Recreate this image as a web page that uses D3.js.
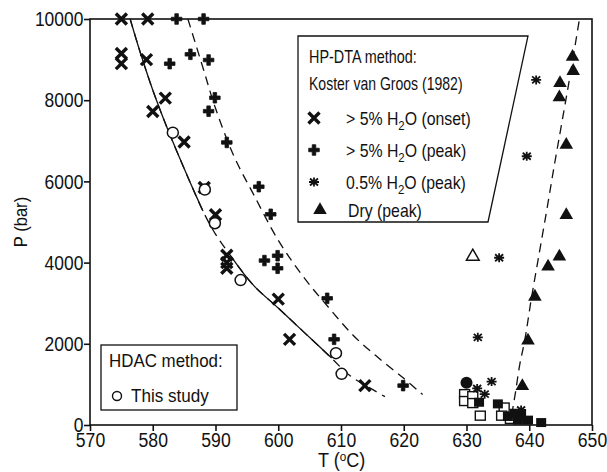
<!DOCTYPE html>
<html>
<head>
<meta charset="utf-8">
<script src="https://cdn.jsdelivr.net/npm/d3@7"></script>
<style>
  html, body { margin: 0; padding: 0; background: #fff; }
  svg text { font-family: "Liberation Sans", Arial, Helvetica, sans-serif; fill: #111; }
  .frame { fill: none; stroke: #111; stroke-width: 1.6; }
  .fit   { fill: none; stroke: #111; stroke-width: 1.3; }
  .axis path { display: none; }
  .axis line { stroke: #111; stroke-width: 1.6; }
  .axis text { font-size: 21px; }
</style>
</head>
<body>
<svg id="chart"></svg>
<script>
const SVG_W  = 607;
const SVG_H  = 472;
const MARGIN = { top: 19, right: 15, bottom: 47, left: 90 };
const W      = SVG_W - MARGIN.left - MARGIN.right;
const H      = SVG_H - MARGIN.top  - MARGIN.bottom;

// ticks
const T_TICKS = [570, 580, 590, 600, 610, 620, 630, 640, 650];
const P_TICKS = [0, 2000, 4000, 6000, 8000, 10000];

// Koster van Groos (1982), >5% H2O onset  [T degC, P bar]
const onsetPts = [
  [575, 10000], [579.2, 10000], [575, 9150], [575, 8900], [579, 9000],
  [582, 8050], [580, 7720], [585, 6970], [588.2, 5850], [590, 5180],
  [591.8, 4180], [591.8, 4000], [591.8, 3860], [600, 3100], [601.8, 2110],
  [613.8, 970]
];
// >5% H2O peak
const peakPts = [
  [583.8, 10000], [588.1, 10000], [582.7, 8900], [586, 9130], [588.9, 8990],
  [589.9, 8060], [588.9, 7730], [591.8, 6960], [596.9, 5870], [598.8, 5190],
  [597.8, 4050], [599.9, 4170], [599.9, 3860], [607.8, 3120], [608.9, 2110],
  [619.9, 970]
];
// 0.5% H2O peak
const tracePts = [
  [641.1, 8500], [639.6, 6620], [635.2, 4120], [631.8, 2160], [634, 1070],
  [631.7, 900], [632.9, 760], [638.7, 370]
];
// dry peak
const dryPts = [
  [646.9, 9070], [647, 8720], [644.9, 8420], [644.8, 8070], [645.9, 6900],
  [645.9, 5170], [644.8, 4150], [643, 3900], [640.9, 3160], [639.8, 2080],
  [638.9, 960]
];
const dryOpenPts = [[631, 4150]];

// HDAC, this study
const studyPts = [
  [583.2, 7200], [588.3, 5800], [589.9, 4970], [594, 3570], [609.2, 1770], [610.1, 1260]
];
const dotPts     = [[630, 1040]];
const sqOpenPts  = [
  [629.7, 760], [629.7, 590], [631, 710], [631, 540], [632.2, 230],
  [636, 430], [635.6, 230], [637, 150]
];
const sqFillPts  = [
  [632, 560], [635, 520], [636.6, 210], [637.7, 290], [638.7, 250],
  [639.8, 120], [641.9, 60], [638.2, 120]
];

// fitted curves (null = gap in line)
const solidFit = [
  [576.4, 10000], [578, 9180], [580, 8250], [582, 7430], [584, 6680], [586, 5960], [588, 5270],
  null,
  [592.5, 4150], [596, 3450], [600, 2880], [604, 2300], [608.5, 1650]
];
const onsetFit = [
  [576.4, 10000], [578, 9180], [580, 8250], [582, 7430], [584, 6680], [586, 5960], [588, 5270],
  [590, 4700], [592.5, 4150], [596, 3450], [600, 2880], [604, 2300], [608, 1720],
  [611.4, 1220], [614.5, 920], [617, 700]
];
const peakFit = [
  [585.6, 10000], [588, 8800], [590, 7800], [593, 6600], [596, 5700], [600, 4550],
  [604, 3650], [608, 2900], [612, 2200], [616, 1650], [620, 1150], [623, 750]
];
const dryFit = [
  [637.2, 250], [637.8, 800], [638.5, 1500], [639.3, 2100], [640.3, 3080], [641.5, 4150],
  [642.8, 5300], [644, 6400], [645.2, 7450], [646.5, 8600], [648, 10000]
];

const xScale = d3.scaleLinear().domain([570, 650]).range([0, W]);
const yScale = d3.scaleLinear().domain([0, 10000]).range([H, 0]);

const svg = d3.select('#chart')
  .attr('width', SVG_W)
  .attr('height', SVG_H);

svg.append('defs').append('clipPath').attr('id', 'plot-clip')
  .append('rect').attr('width', W).attr('height', H);

const g = svg.append('g')
  .attr('transform', `translate(${MARGIN.left},${MARGIN.top})`);

// axes (labels squeezed a bit, the original face is narrow)
g.append('g')
  .attr('class', 'axis')
  .attr('transform', `translate(0,${H})`)
  .call(d3.axisBottom(xScale).tickValues(T_TICKS).tickSize(6).tickPadding(1).tickFormat(d3.format('d')))
  .selectAll('text').attr('transform', 'scale(0.84,1)');

g.append('g')
  .attr('class', 'axis')
  .call(d3.axisLeft(yScale).tickValues(P_TICKS).tickSize(6).tickPadding(2).tickFormat(d3.format('d')))
  .selectAll('text').attr('transform', 'scale(0.83,1)');

g.append('rect')
  .attr('class', 'frame')
  .attr('width', W)
  .attr('height', H);

// fitted curves
const lineGen = d3.line()
  .defined(d => d !== null)
  .x(d => xScale(d[0]))
  .y(d => yScale(d[1]))
  .curve(d3.curveCatmullRom.alpha(0.5));

const curves = g.append('g').attr('clip-path', 'url(#plot-clip)');
curves.append('path').attr('class', 'fit').attr('d', lineGen(onsetFit)).attr('stroke-dasharray', '9,6');
curves.append('path').attr('class', 'fit').attr('d', lineGen(solidFit));
curves.append('path').attr('class', 'fit').attr('d', lineGen(peakFit)).attr('stroke-dasharray', '9,6');
curves.append('path').attr('class', 'fit').attr('d', lineGen(dryFit)).attr('stroke-dasharray', '9,6');

// marker shapes
function drawMark(sel, kind) {
  if (kind === 'onset') {
    sel.append('path').attr('d', 'M-5.5,-5.5L5.5,5.5M-5.5,5.5L5.5,-5.5')
      .attr('stroke', '#111').attr('stroke-width', 3.4).attr('fill', 'none');
  } else if (kind === 'peak') {
    sel.append('path').attr('d', d3.symbol(d3.symbolCross, 62)())
      .attr('fill', '#111').attr('stroke', '#111').attr('stroke-width', 0.8).attr('stroke-linejoin', 'round');
  } else if (kind === 'trace') {
    sel.append('path').attr('d', 'M-5,0H5M0,-4.5V4.5M-4,-3.5L4,3.5M-4,3.5L4,-3.5')
      .attr('stroke', '#111').attr('stroke-width', 1.8).attr('fill', 'none');
  } else if (kind === 'dry') {
    sel.append('path').attr('d', d3.symbol(d3.symbolTriangle, 80)())
      .attr('fill', '#111');
  } else if (kind === 'dryOpen') {
    sel.append('path').attr('d', d3.symbol(d3.symbolTriangle, 70)())
      .attr('fill', '#fff').attr('stroke', '#111').attr('stroke-width', 1.5);
  } else if (kind === 'study') {
    sel.append('circle').attr('r', 5.5)
      .attr('fill', '#fff').attr('stroke', '#111').attr('stroke-width', 1.5);
  } else if (kind === 'dot') {
    sel.append('circle').attr('r', 6).attr('fill', '#111');
  } else if (kind === 'sqOpen') {
    sel.append('rect').attr('x', -5).attr('y', -4.5).attr('width', 10).attr('height', 9)
      .attr('fill', '#fff').attr('stroke', '#111').attr('stroke-width', 1.4);
  } else if (kind === 'sqFill') {
    sel.append('rect').attr('x', -5).attr('y', -4.5).attr('width', 10).attr('height', 9)
      .attr('fill', '#111');
  }
}

function plotSeries(data, kind) {
  g.append('g').selectAll('g')
    .data(data)
    .join('g')
    .attr('transform', d => `translate(${xScale(d[0])},${yScale(d[1])})`)
    .each(function () { drawMark(d3.select(this), kind); });
}

plotSeries(sqOpenPts, 'sqOpen');
plotSeries(sqFillPts, 'sqFill');
plotSeries(dotPts, 'dot');
plotSeries(onsetPts, 'onset');
plotSeries(peakPts, 'peak');
plotSeries(tracePts, 'trace');
plotSeries(dryPts, 'dry');
plotSeries(dryOpenPts, 'dryOpen');
plotSeries(studyPts, 'study');

// text helper: narrow the face horizontally
function label(parent, x, y, size, sx) {
  return parent.append('text')
    .attr('transform', `translate(${x},${y}) scale(${sx},1)`)
    .style('font-size', size + 'px');
}

// axis titles
const tTitle = label(svg, MARGIN.left + W / 2 - 23, 467, 20, 0.9);
tTitle.append('tspan').text('T (');
tTitle.append('tspan').attr('dy', -6).style('font-size', '13px').text('o');
tTitle.append('tspan').attr('dy', 6).text('C)');

svg.append('text')
  .attr('transform', `translate(27,${MARGIN.top + H / 2}) rotate(-90) scale(0.92,1)`)
  .attr('text-anchor', 'middle')
  .style('font-size', '18px')
  .text('P (bar)');

// HP-DTA legend (trapezoid)
const leg = svg.append('g');
leg.append('path')
  .attr('d', 'M298,36L528,36L488,222L298,222Z')
  .attr('fill', '#fff').attr('stroke', '#111').attr('stroke-width', 1.3);

label(leg, 309, 63, 18, 0.8).text('HP-DTA method:');
label(leg, 309, 90, 18, 0.78).text('Koster van Groos (1982)');

const legRows = [
  { kind: 'onset', y: 118, lead: '> 5% H', tail: 'O (onset)' },
  { kind: 'peak',  y: 150, lead: '> 5% H', tail: 'O (peak)' },
  { kind: 'trace', y: 182, lead: '0.5% H', tail: 'O (peak)' },
  { kind: 'dry',   y: 210, lead: 'Dry (peak)', tail: null }
];

legRows.forEach(r => {
  const mk = leg.append('g').attr('transform', `translate(${r.kind === 'dry' ? 320 : 314},${r.y})`);
  drawMark(mk, r.kind);
  const t = label(leg, r.kind === 'dry' ? 348 : 346, r.y + 7, 18, 0.88);
  t.append('tspan').text(r.lead);
  if (r.tail) {
    t.append('tspan').attr('dy', 5).style('font-size', '13px').text('2');
    t.append('tspan').attr('dy', -5).text(r.tail);
  }
});

// HDAC legend
const leg2 = svg.append('g');
leg2.append('rect')
  .attr('x', 101).attr('y', 345).attr('width', 136).attr('height', 65)
  .attr('fill', '#fff').attr('stroke', '#111').attr('stroke-width', 1.3);
label(leg2, 109, 367, 18, 0.94).text('HDAC method:');
const mk2 = leg2.append('g').attr('transform', 'translate(117,396)');
mk2.append('circle').attr('r', 4.5).attr('fill', '#fff').attr('stroke', '#111').attr('stroke-width', 1.4);
label(leg2, 131, 402, 18, 0.95).text('This study');
</script>
</body>
</html>
